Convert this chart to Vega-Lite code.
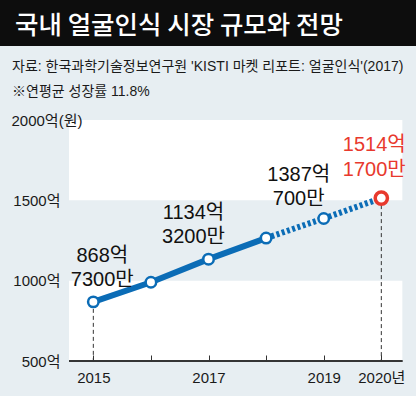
{
  "$schema": "https://vega.github.io/schema/vega-lite/v6.json",
  "background": "#e7eef2",
  "padding": {"left": 0, "top": 0, "right": 0, "bottom": 11},
  "spacing": 14,
  "columns": 1,
  "align": "none",
  "config": {
    "view": {"stroke": null},
    "font": "Liberation Sans, Noto Sans CJK KR"
  },
  "concat": [
    {
      "width": 416,
      "height": 46,
      "view": {"fill": "#0d0d0d", "stroke": null},
      "title": {
        "text": "국내 얼굴인식 시장 규모와 전망",
        "orient": "top",
        "anchor": "start",
        "frame": "group",
        "offset": -39,
        "dx": 15,
        "color": "#ffffff",
        "font": "Noto Sans CJK KR",
        "fontSize": 25.5,
        "fontWeight": 500
      },
      "data": {"values": []},
      "mark": "point",
      "encoding": {}
    },
    {
      "width": 416,
      "height": 241,
      "title": {
        "text": ["자료: 한국과학기술정보연구원 'KISTI 마켓 리포트: 얼굴인식'(2017)", "※연평균 성장률 11.8%"],
        "anchor": "start",
        "frame": "group",
        "dx": 12,
        "offset": 14,
        "fontSize": 14,
        "fontWeight": "normal",
        "color": "#1a1a1a",
        "lineHeight": 25
      },
      "data": {
        "values": [
          {"year": 2015, "value": 868, "label": "868억\n7300만"},
          {"year": 2016, "value": 990, "label": ""},
          {"year": 2017, "value": 1134, "label": "1134억\n3200만"},
          {"year": 2018, "value": 1265, "label": ""},
          {"year": 2019, "value": 1387, "label": "1387억\n700만"},
          {"year": 2020, "value": 1514, "label": "1514억\n1700만"}
        ]
      },
      "layer": [
        {
          "data": {"values": [{"lo": 1500, "hi": 2000}, {"lo": 500, "hi": 1000}]},
          "mark": {"type": "rect", "fill": "#ffffff"},
          "encoding": {
            "x": {
              "datum": 2014.578,
              "type": "quantitative",
              "scale": {"domain": [2013.38, 2020.602], "nice": false, "zero": false},
              "axis": {
                "values": [2015, 2016, 2017, 2018, 2019, 2020],
                "title": null,
                "grid": false,
                "domain": false,
                "zindex": 2,
                "tickColor": "#333333",
                "tickSize": -6,
                "labelPadding": 15,
                "labelFlush": false,
                "labelFontSize": 15,
                "labelColor": "#1a1a1a",
                "labelExpr": "datum.value == 2020 ? '2020년' : (datum.value == 2015 || datum.value == 2017 || datum.value == 2019) ? format(datum.value, 'd') : ''"
              }
            },
            "x2": {"datum": 2020.365},
            "y": {
              "field": "lo",
              "type": "quantitative",
              "scale": {"domain": [500, 2000], "nice": false, "zero": false},
              "axis": {
                "values": [500, 1000, 1500, 2000],
                "title": null,
                "domain": false,
                "ticks": false,
                "grid": false,
                "zindex": 2,
                "offset": -69,
                "labelPadding": {"condition": {"test": "datum.value == 2000", "value": 58}, "value": 9},
                "labelAlign": {"condition": {"test": "datum.value == 2000", "value": "left"}, "value": "right"},
                "labelExpr": "datum.value == 2000 ? '2000억(원)' : format(datum.value, 'd') + '억'",
                "labelFontSize": 15,
                "labelColor": "#1a1a1a"
              }
            },
            "y2": {"field": "hi"}
          }
        },
        {
          "mark": {"type": "rule", "color": "#333333", "strokeWidth": 1},
          "encoding": {
            "x": {"datum": 2014.578, "type": "quantitative"},
            "x2": {"datum": 2020.365},
            "y": {"datum": 500, "type": "quantitative"}
          }
        },
        {
          "transform": [{"filter": "datum.year == 2015 || datum.year == 2020"}],
          "mark": {"type": "rule", "color": "#333333", "strokeWidth": 1, "strokeDash": [4, 3]},
          "encoding": {
            "x": {"field": "year", "type": "quantitative"},
            "y": {"field": "value", "type": "quantitative"},
            "y2": {"datum": 500}
          }
        },
        {
          "transform": [{"filter": "datum.year <= 2018"}],
          "mark": {"type": "line", "color": "#0b6cb6", "strokeWidth": 6},
          "encoding": {
            "x": {"field": "year", "type": "quantitative"},
            "y": {"field": "value", "type": "quantitative"}
          }
        },
        {
          "transform": [{"filter": "datum.year >= 2018"}],
          "mark": {"type": "line", "color": "#0b6cb6", "strokeWidth": 6, "strokeDash": [3, 2.5]},
          "encoding": {
            "x": {"field": "year", "type": "quantitative"},
            "y": {"field": "value", "type": "quantitative"}
          }
        },
        {
          "transform": [{"filter": "datum.year <= 2019"}],
          "mark": {"type": "point", "filled": true, "fill": "#ffffff", "stroke": "#0b6cb6", "strokeWidth": 2.5, "size": 110, "opacity": 1},
          "encoding": {
            "x": {"field": "year", "type": "quantitative"},
            "y": {"field": "value", "type": "quantitative"}
          }
        },
        {
          "transform": [{"filter": "datum.year == 2020"}],
          "mark": {"type": "point", "filled": true, "fill": "#ffffff", "stroke": "#e8392d", "strokeWidth": 3.5, "size": 150, "opacity": 1},
          "encoding": {
            "x": {"field": "year", "type": "quantitative"},
            "y": {"field": "value", "type": "quantitative"}
          }
        },
        {
          "transform": [{"filter": "datum.year == 2015"}],
          "mark": {"type": "text", "fontSize": 20, "lineHeight": 24, "lineBreak": "\n", "align": "center", "baseline": "alphabetic", "dx": 9, "dy": -40, "color": "#111111"},
          "encoding": {
            "x": {"field": "year", "type": "quantitative"},
            "y": {"field": "value", "type": "quantitative"},
            "text": {"field": "label"}
          }
        },
        {
          "transform": [{"filter": "datum.year == 2017"}],
          "mark": {"type": "text", "fontSize": 20, "lineHeight": 24, "lineBreak": "\n", "align": "center", "baseline": "alphabetic", "dx": -15, "dy": -40, "color": "#111111"},
          "encoding": {
            "x": {"field": "year", "type": "quantitative"},
            "y": {"field": "value", "type": "quantitative"},
            "text": {"field": "label"}
          }
        },
        {
          "transform": [{"filter": "datum.year == 2019"}],
          "mark": {"type": "text", "fontSize": 20, "lineHeight": 24, "lineBreak": "\n", "align": "center", "baseline": "alphabetic", "dx": -25, "dy": -37, "color": "#111111"},
          "encoding": {
            "x": {"field": "year", "type": "quantitative"},
            "y": {"field": "value", "type": "quantitative"},
            "text": {"field": "label"}
          }
        },
        {
          "transform": [{"filter": "datum.year == 2020"}],
          "mark": {"type": "text", "fontSize": 20, "lineHeight": 25, "lineBreak": "\n", "align": "center", "baseline": "alphabetic", "dx": -7, "dy": -47, "color": "#e8392d"},
          "encoding": {
            "x": {"field": "year", "type": "quantitative"},
            "y": {"field": "value", "type": "quantitative"},
            "text": {"field": "label"}
          }
        }
      ]
    }
  ]
}
